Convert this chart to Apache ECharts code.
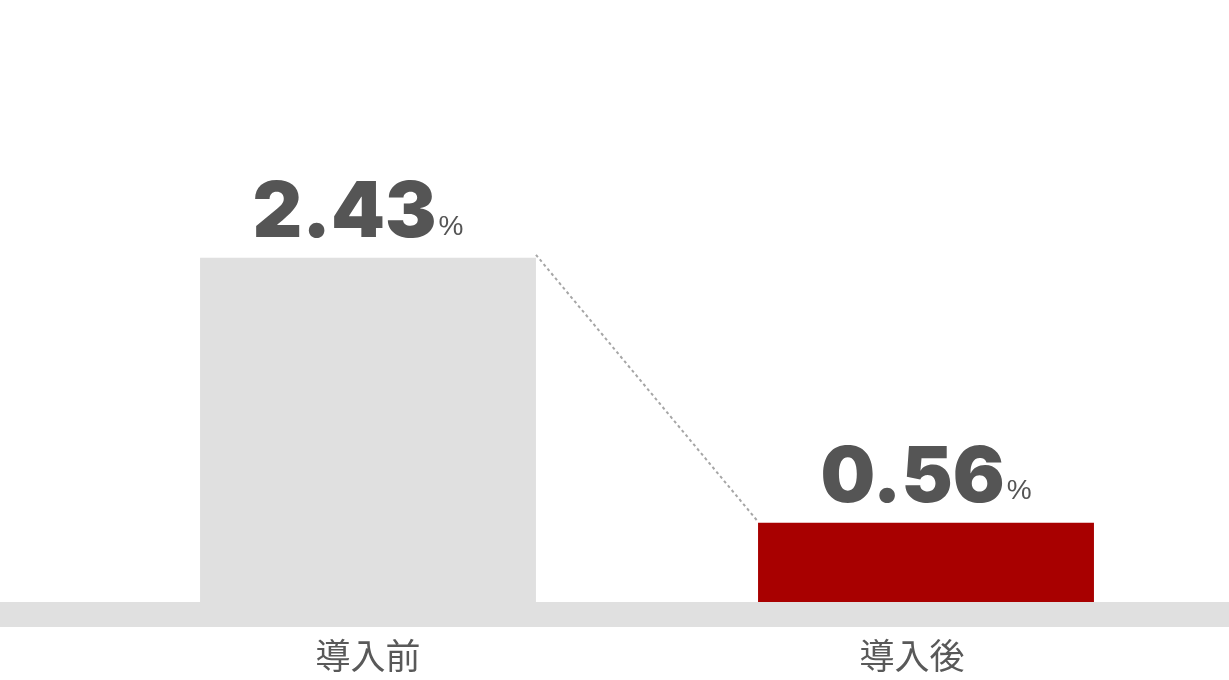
<!DOCTYPE html>
<html><head><meta charset="utf-8">
<script src="https://cdn.jsdelivr.net/npm/echarts@6/dist/echarts.min.js"></script>
<style>html,body{margin:0;padding:0;background:#fff}#c{width:1229px;height:680px}</style>
</head><body><div id="c"></div>
<script>
const categories = ['導入前', '導入後'];
const values = [2.43, 0.56];
const unit = '%';
const barColors = ['#e0e0e0', '#a80000'];

const chart = echarts.init(document.getElementById('c'));
const BAR_RATIO = 0.602;
const labelOffsets = [[-10, 0], [0, 0]];
const catPad = [[0, 0, 0, 0], [0, 28, 0, 0]];
chart.setOption({
  animation: false,
  grid: { left: 89, right: 24, top: 0, bottom: 78 },
  graphic: [{ type: 'rect', left: 0, bottom: 53, z: -10, shape: { width: 1229, height: 25 }, style: { fill: '#e0e0e0' } }],
  xAxis: {
    type: 'category',
    data: categories.map((c, i) => ({ value: c, textStyle: { padding: catPad[i] } })),
    axisLine: { show: false }, axisTick: { show: false },
    axisLabel: { margin: 36, fontSize: 35, color: '#595959', fontFamily: 'Noto Sans CJK JP' }
  },
  yAxis: { type: 'value', min: 0, max: 4.25, show: false, splitLine: { show: false } },
  series: [{
    type: 'bar', barWidth: (BAR_RATIO * 100) + '%',
    data: values.map((v, i) => ({ value: v, itemStyle: { color: barColors[i] }, label: { offset: labelOffsets[i] } })),
    label: {
      show: true, position: 'top', distance: 5,
      formatter: p => '{n|' + p.value.toFixed(2) + '}{u|' + unit + '}',
      rich: {
        n: { fontSize: 77, fontWeight: 900, color: '#555555', fontFamily: 'Inter', verticalAlign: 'bottom', lineHeight: 77 },
        u: { fontSize: 28, color: '#555555', fontFamily: 'Liberation Sans', verticalAlign: 'bottom', lineHeight: 28, padding: [0, 0, 12, 2] }
      }
    }
  }, {
    type: 'custom', silent: true, z: 5,
    data: [[0, values[0], 1, values[1]]],
    encode: { x: 0, y: 1 },
    renderItem: (params, api) => {
      const p1 = api.coord([api.value(0), api.value(1)]);
      const p2 = api.coord([api.value(2), api.value(3)]);
      const bw = api.size([1, 0])[0] * BAR_RATIO;
      return {
        type: 'line',
        shape: { x1: p1[0] + bw / 2, y1: p1[1] - 3, x2: p2[0] - bw / 2, y2: p2[1] - 1 },
        style: { stroke: '#a6a6a6', lineWidth: 2, lineDash: [3, 3] }
      };
    }
  }]
});
</script></body></html>
